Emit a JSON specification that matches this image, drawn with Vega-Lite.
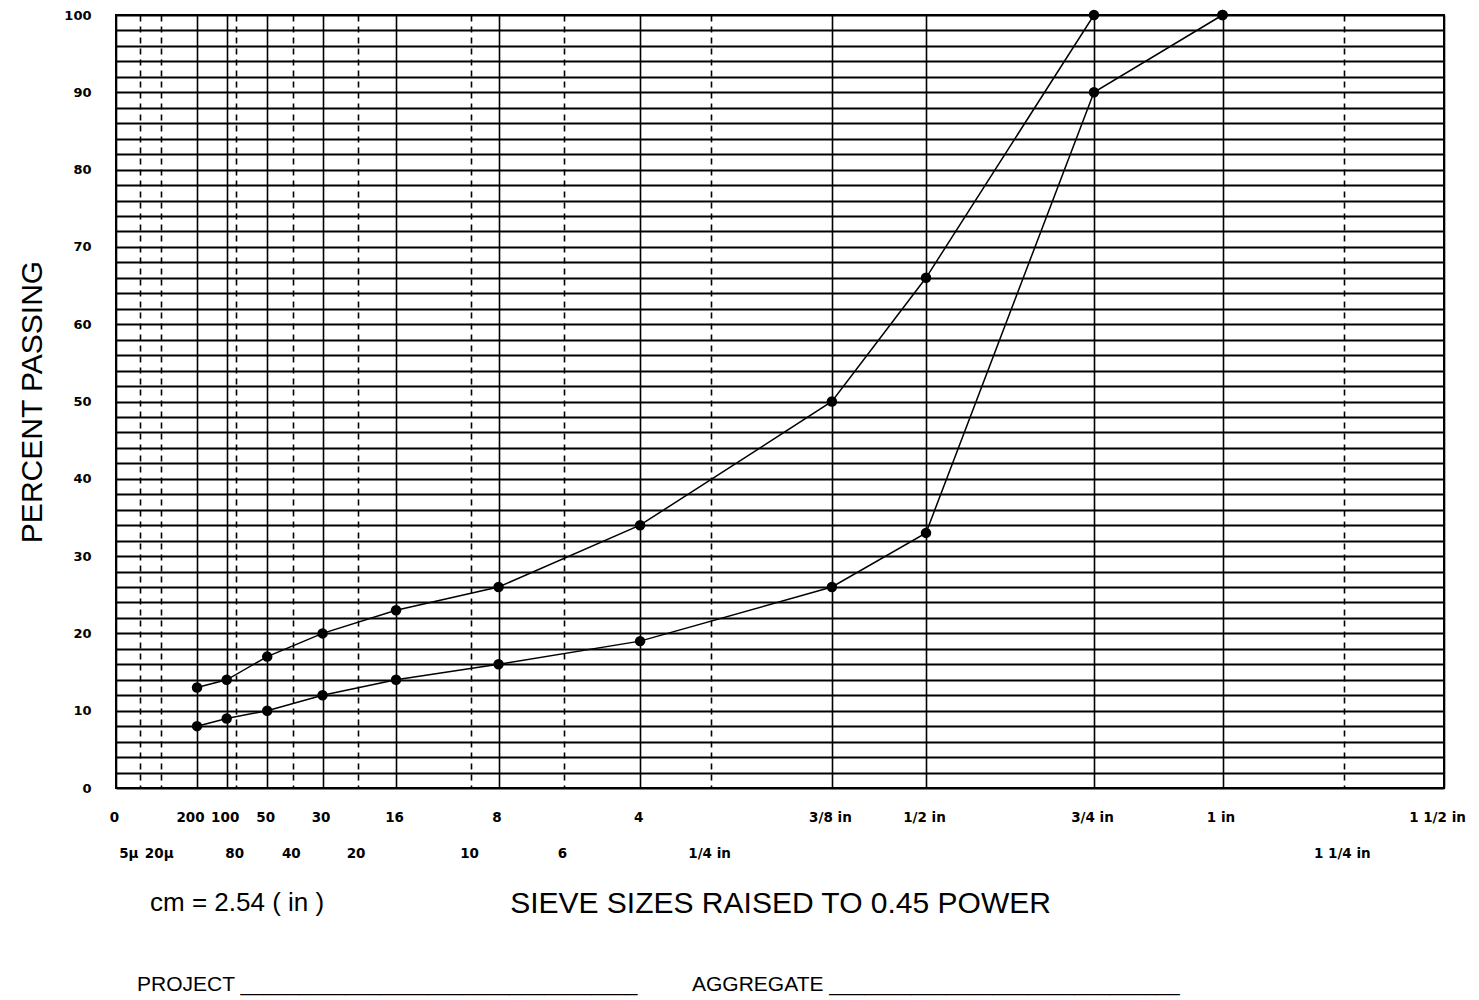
{
  "$schema": "https://vega.github.io/schema/vega-lite/v6.json",
  "width": 1328,
  "height": 773,
  "autosize": "none",
  "padding": {"left": 116, "top": 15, "right": 35, "bottom": 212},
  "background": "white",
  "config": {"view": {"stroke": "black", "strokeWidth": 2}},
  "data": {
    "values": [
      {"sieve": 0.075, "passing": 13, "curve": "upper"},
      {"sieve": 0.15, "passing": 14, "curve": "upper"},
      {"sieve": 0.3, "passing": 17, "curve": "upper"},
      {"sieve": 0.6, "passing": 20, "curve": "upper"},
      {"sieve": 1.18, "passing": 23, "curve": "upper"},
      {"sieve": 2.36, "passing": 26, "curve": "upper"},
      {"sieve": 4.75, "passing": 34, "curve": "upper"},
      {"sieve": 9.5, "passing": 50, "curve": "upper"},
      {"sieve": 12.5, "passing": 66, "curve": "upper"},
      {"sieve": 19, "passing": 100, "curve": "upper"},
      {"sieve": 25, "passing": 100, "curve": "upper"},
      {"sieve": 0.075, "passing": 8, "curve": "lower"},
      {"sieve": 0.15, "passing": 9, "curve": "lower"},
      {"sieve": 0.3, "passing": 10, "curve": "lower"},
      {"sieve": 0.6, "passing": 12, "curve": "lower"},
      {"sieve": 1.18, "passing": 14, "curve": "lower"},
      {"sieve": 2.36, "passing": 16, "curve": "lower"},
      {"sieve": 4.75, "passing": 19, "curve": "lower"},
      {"sieve": 9.5, "passing": 26, "curve": "lower"},
      {"sieve": 12.5, "passing": 33, "curve": "lower"},
      {"sieve": 19, "passing": 90, "curve": "lower"},
      {"sieve": 25, "passing": 100, "curve": "lower"}
    ]
  },
  "layer": [
    {
      "mark": {"type": "line", "color": "black", "strokeWidth": 1.5},
      "encoding": {
        "x": {
          "field": "sieve",
          "type": "quantitative",
          "scale": {"type": "pow", "exponent": 0.45, "domain": [0, 37.5], "nice": false},
          "axis": {
            "title": "SIEVE SIZES RAISED TO 0.45 POWER",
            "titleFont": "Liberation Sans",
            "titleFontSize": 30,
            "titleFontWeight": "normal",
            "titleColor": "black",
            "titlePadding": 29,
            "tickCount": 200,
            "values": [0, 0.005, 0.02, 0.075, 0.15, 0.18, 0.3, 0.425, 0.6, 0.85, 1.18, 2, 2.36, 3.35, 4.75, 6.3, 9.5, 12.5, 19, 25, 31.5, 37.5],
            "labelExpr": "{'0':'0','0.005':['','5μ'],'0.02':['','20μ'],'0.075':'200','0.15':'100','0.18':['','80'],'0.3':'50','0.425':['','40'],'0.6':'30','0.85':['','20'],'1.18':'16','2':['','10'],'2.36':'8','3.35':['','6'],'4.75':'4','6.3':['','1/4 in'],'9.5':'3/8 in','12.5':'1/2 in','19':'3/4 in','25':'1 in','31.5':['','1 1/4 in'],'37.5':'1 1/2 in'}[''+datum.value]",
            "labelFont": "DejaVu Sans",
            "labelFontWeight": "bold",
            "labelFontSize": 13.5,
            "labelColor": "black",
            "labelBaseline": "top",
            "labelLineHeight": 36,
            "labelPadding": 22,
            "labelAlign": {"condition": {"test": "datum.value === 0.005", "value": "right"}, "value": "center"},
            "labelOffset": {"condition": {"test": "datum.value === 37.5 || datum.value === 0.075", "value": -7}, "value": -2},
            "labelOverlap": false,
            "labelBound": false,
            "labelFlush": false,
            "ticks": false,
            "tickSize": 0,
            "domain": false,
            "grid": true,
            "gridColor": "black",
            "gridOpacity": 1,
            "gridWidth": 1.6,
            "gridDash": {
              "condition": {"test": "indexof([0.005,0.02,0.18,0.425,0.85,2,3.35,6.3,31.5], datum.value) >= 0", "value": [6, 5]},
              "value": []
            }
          }
        },
        "y": {
          "field": "passing",
          "type": "quantitative",
          "scale": {"domain": [0, 100], "nice": false},
          "axis": {
            "title": "PERCENT PASSING",
            "titleFont": "Liberation Sans",
            "titleFontSize": 30,
            "titleFontWeight": "normal",
            "titleColor": "black",
            "titlePadding": 16,
            "tickCount": 200,
            "format": "d",
            "values": [0, 2, 4, 6, 8, 10, 12, 14, 16, 18, 20, 22, 24, 26, 28, 30, 32, 34, 36, 38, 40, 42, 44, 46, 48, 50, 52, 54, 56, 58, 60, 62, 64, 66, 68, 70, 72, 74, 76, 78, 80, 82, 84, 86, 88, 90, 92, 94, 96, 98, 100],
            "labelExpr": "datum.value % 10 === 0 ? datum.label : ''",
            "labelFont": "DejaVu Sans",
            "labelFontWeight": "bold",
            "labelFontSize": 13,
            "labelColor": "black",
            "labelPadding": 25,
            "labelOverlap": false,
            "labelBound": false,
            "labelFlush": false,
            "ticks": false,
            "tickSize": 0,
            "domain": false,
            "grid": true,
            "gridColor": "black",
            "gridOpacity": 1,
            "gridWidth": 1.8
          }
        },
        "detail": {"field": "curve"}
      }
    },
    {
      "mark": {"type": "point", "filled": true, "color": "black", "size": 110, "opacity": 1},
      "encoding": {
        "x": {"field": "sieve", "type": "quantitative"},
        "y": {"field": "passing", "type": "quantitative"}
      }
    },
    {
      "data": {"values": [{"note": "cm = 2.54 ( in )"}]},
      "mark": {"type": "text", "align": "left", "baseline": "middle", "font": "Liberation Sans", "fontSize": 26, "color": "black"},
      "encoding": {"text": {"field": "note"}, "x": {"datum": 0.0109}, "y": {"datum": -14.9}}
    },
    {
      "data": {"values": [{"note": "PROJECT __________________________________"}]},
      "mark": {"type": "text", "align": "left", "baseline": "middle", "font": "Liberation Sans", "fontSize": 21, "color": "black"},
      "encoding": {"text": {"field": "note"}, "x": {"datum": 0.00373}, "y": {"datum": -25.5}}
    },
    {
      "data": {"values": [{"note": "AGGREGATE ______________________________"}]},
      "mark": {"type": "text", "align": "left", "baseline": "middle", "font": "Liberation Sans", "fontSize": 21, "color": "black"},
      "encoding": {"text": {"field": "note"}, "x": {"datum": 5.86}, "y": {"datum": -25.5}}
    }
  ]
}
